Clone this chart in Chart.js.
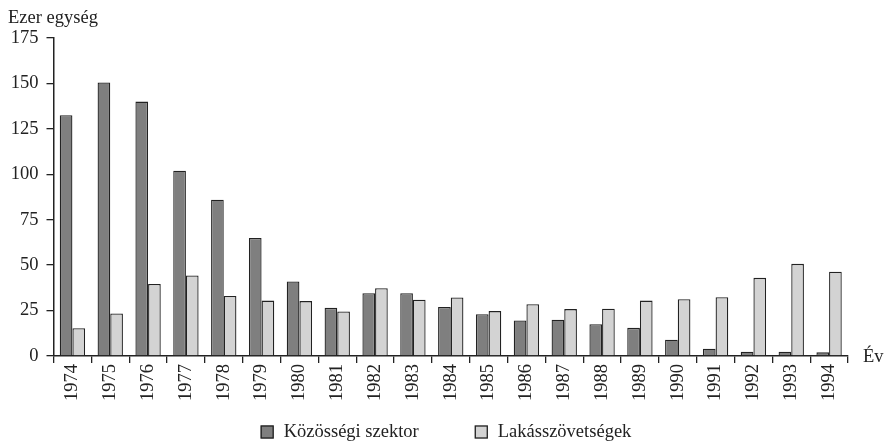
<!DOCTYPE html>
<html>
<head>
<meta charset="utf-8">
<script src="https://cdn.jsdelivr.net/npm/chart.js@4/dist/chart.umd.min.js"></script>
<style>
  html, body { margin: 0; padding: 0; background: #ffffff; }
  #wrap { width: 884px; height: 441px; position: relative; }
</style>
</head>
<body>
<div id="wrap"><canvas id="c" width="884" height="441"></canvas></div>
<script>
// Housing completions, thousand units, by year
const years = ['1974','1975','1976','1977','1978','1979','1980','1981','1982','1983','1984',
               '1985','1986','1987','1988','1989','1990','1991','1992','1993','1994'];
const publicSector = [132.5, 150.5, 140, 102, 86, 65, 41, 26.5, 34.5, 34.5, 27,
                      23, 19.5, 20, 17.5, 15.5, 9, 4, 2.3, 2.3, 2];
const housingAssociations = [15.3, 23.4, 39.6, 44.3, 33, 30.5, 30.2, 24.5, 37.3, 31, 32.2,
                             24.7, 28.5, 25.8, 26, 30.5, 31.2, 32.3, 43, 50.7, 46.4];
const seriesNames = ['Közösségi szektor', 'Lakásszövetségek'];
const yTicks = [0, 25, 50, 75, 100, 125, 150, 175];

const FONT = '"Liberation Serif", "Times New Roman", serif';
const INK = '#222222';
const FILLS = ['#7f7f7f', '#d3d3d3'];

// Unit caption, axis name and the legend drawn onto the canvas
const textPlugin = {
  id: 'captions',
  afterDraw(chart) {
    const ctx = chart.ctx;
    const area = chart.chartArea;
    ctx.save();
    ctx.fillStyle = INK;
    ctx.font = '18.5px ' + FONT;
    ctx.textBaseline = 'alphabetic';
    ctx.textAlign = 'left';
    ctx.fillText('Ezer egység', 8, 23);
    ctx.textBaseline = 'middle';
    ctx.fillText('Év', area.right + 15, area.bottom + 1);

    // legend
    const box = 13, gapBoxText = 10, gapItems = 56;
    const items = chart.data.datasets.map(ds => ({
      label: ds.label, fill: ds.backgroundColor,
      w: box + gapBoxText + ctx.measureText(ds.label).width
    }));
    const total = items.reduce((s, it) => s + it.w, 0) + gapItems * (items.length - 1);
    let x = 446 - total / 2;
    const cy = 432;
    items.forEach(it => {
      ctx.fillStyle = it.fill;
      ctx.fillRect(x, cy - box / 2, box, box);
      ctx.strokeStyle = INK;
      ctx.lineWidth = 1.3;
      ctx.strokeRect(x + 0.5, cy - box / 2 + 0.5, box - 1, box - 1);
      ctx.fillStyle = INK;
      ctx.fillText(it.label, x + box + gapBoxText, cy);
      x += it.w + gapItems;
    });
    ctx.restore();
  }
};

new Chart(document.getElementById('c'), {
  type: 'bar',
  data: {
    labels: years,
    datasets: [
      { label: seriesNames[0], data: publicSector, backgroundColor: FILLS[0],
        borderColor: INK, borderWidth: 1.3 },
      { label: seriesNames[1], data: housingAssociations, backgroundColor: FILLS[1],
        borderColor: INK, borderWidth: 1.3 }
    ]
  },
  options: {
    responsive: false,
    animation: false,
    devicePixelRatio: 1,
    layout: { padding: { top: 38, right: 36, left: 0, bottom: 0 } },
    datasets: { bar: { categoryPercentage: 0.67, barPercentage: 1.0 } },
    plugins: { legend: { display: false }, tooltip: { enabled: false }, title: { display: false } },
    scales: {
      x: {
        offset: true,
        border: { display: true, color: INK, width: 1.5 },
        grid: { display: true, drawOnChartArea: false, drawTicks: true, tickLength: 7,
                color: INK, lineWidth: 1.3, offset: true },
        ticks: { color: INK, font: { family: FONT, size: 18.5 }, minRotation: 90, maxRotation: 90,
                 padding: 1, autoSkip: false },
        afterFit(scale) { scale.height = 85; }
      },
      y: {
        min: 0, max: 175,
        border: { display: true, color: INK, width: 1.5 },
        grid: { display: true, drawOnChartArea: false, drawTicks: true, tickLength: 7,
                color: INK, lineWidth: 1.3 },
        afterBuildTicks(scale) { scale.ticks = yTicks.map(v => ({ value: v })); },
        ticks: { color: INK, font: { family: FONT, size: 18.5 }, padding: 8 },
        afterFit(scale) { scale.width = 53.5; }
      }
    }
  },
  plugins: [textPlugin]
});
</script>
</body>
</html>
